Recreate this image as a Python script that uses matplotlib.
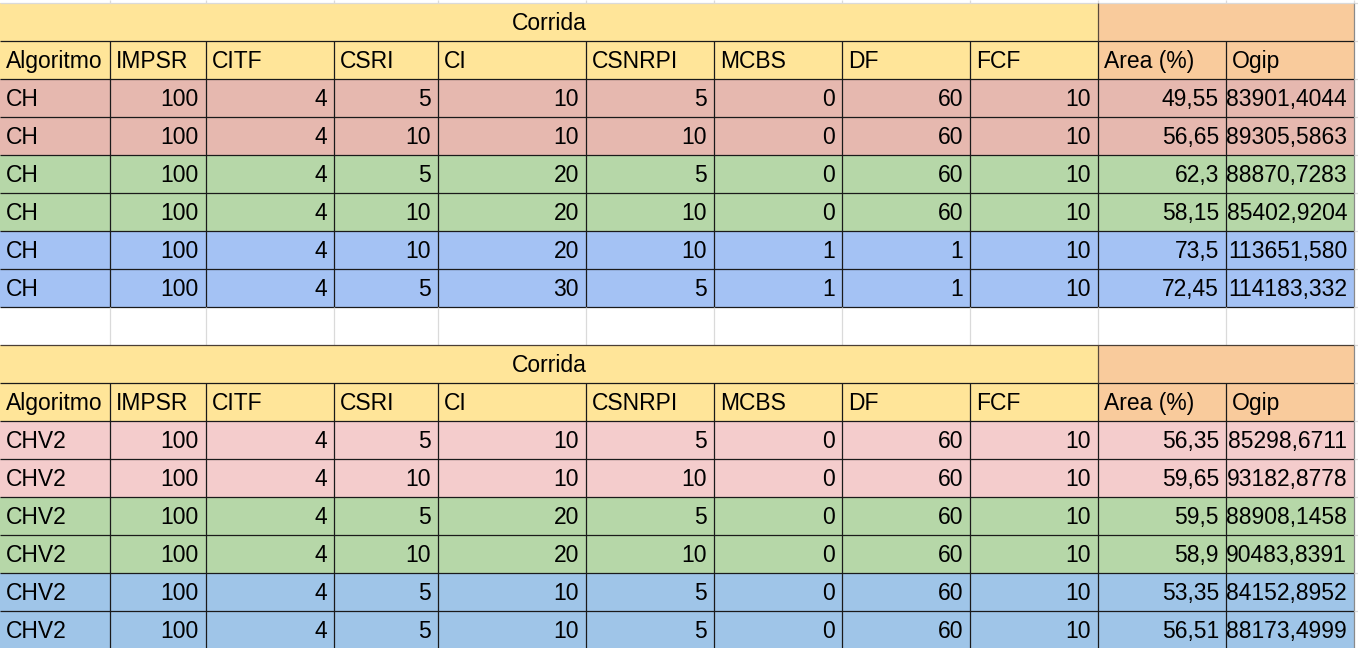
import matplotlib
matplotlib.use('Agg')
import matplotlib.pyplot as plt
from matplotlib.patches import Rectangle

# Column headers and table data
columnas = ['Algoritmo', 'IMPSR', 'CITF', 'CSRI', 'CI', 'CSNRPI', 'MCBS', 'DF', 'FCF', 'Area (%)', 'Ogip']
titulo = 'Corrida'

alg1 = ['CH'] * 6
impsr1 = [100, 100, 100, 100, 100, 100]
citf1 = [4, 4, 4, 4, 4, 4]
csri1 = [5, 10, 5, 10, 10, 5]
ci1 = [10, 10, 20, 20, 20, 30]
csnrpi1 = [5, 10, 5, 10, 10, 5]
mcbs1 = [0, 0, 0, 0, 1, 1]
df1 = [60, 60, 60, 60, 1, 1]
fcf1 = [10, 10, 10, 10, 10, 10]
area1 = [49.55, 56.65, 62.3, 58.15, 73.5, 72.45]
ogip1 = [83901.4044, 89305.5863, 88870.7283, 85402.9204, 113651.580, 114183.332]

alg2 = ['CHV2'] * 6
impsr2 = [100, 100, 100, 100, 100, 100]
citf2 = [4, 4, 4, 4, 4, 4]
csri2 = [5, 10, 5, 10, 5, 5]
ci2 = [10, 10, 20, 20, 10, 10]
csnrpi2 = [5, 10, 5, 10, 5, 5]
mcbs2 = [0, 0, 0, 0, 0, 0]
df2 = [60, 60, 60, 60, 60, 60]
fcf2 = [10, 10, 10, 10, 10, 10]
area2 = [56.35, 59.65, 59.5, 58.9, 53.35, 56.51]
ogip2 = [85298.6711, 93182.8778, 88908.1458, 90483.8391, 84152.8952, 88173.4999]

# Layout (pixels)
col_x = [0, 110, 206, 334, 438, 586, 714, 842, 970, 1098, 1226, 1354]
row_h = 38
W, H = 1358, 648

YELLOW = '#ffe599'
ORANGE = '#f9cb9c'
colores1 = ['#e6b8af', '#e6b8af', '#b6d7a8', '#b6d7a8', '#a4c2f4', '#a4c2f4']
colores2 = ['#f4cccc', '#f4cccc', '#b6d7a8', '#b6d7a8', '#9fc5e8', '#9fc5e8']
GRID = '#dadada'
BORDER = '#1a1a1a'
FONT = 'Liberation Sans'
FS = 16.5


def fmt(v):
    if isinstance(v, str):
        return v
    if isinstance(v, int):
        return str(v)
    return repr(v).replace('.', ',')


def fmt_ogip(v):
    return f'{v:.4f}'[:10].replace('.', ',')


fig = plt.figure(figsize=(W / 100, H / 100), dpi=100)
ax = fig.add_axes([0, 0, 1, 1])
ax.set_xlim(0, W)
ax.set_ylim(H, 0)
ax.axis('off')


def texto(x0, x1, y_bottom, s, align):
    yb = y_bottom - 11
    if align == 'left':
        ax.text(x0 + 6, yb, s, ha='left', va='baseline', fontsize=FS, family=FONT)
    elif align == 'right':
        ax.text(x1 - 7, yb, s, ha='right', va='baseline', fontsize=FS, family=FONT)
    else:
        ax.text((x0 + x1) / 2, yb, s, ha='center', va='baseline', fontsize=FS, family=FONT)


def hline(y, x0, x1, color=BORDER, lw=0.9):
    ax.plot([x0, x1], [y, y], color=color, lw=lw, solid_capstyle='butt')


def vline(x, y0, y1, color=BORDER, lw=0.9):
    ax.plot([x, x], [y0, y1], color=color, lw=lw, solid_capstyle='butt')


def tabla(y0, cols, area, ogip, colores, top_color):
    # title row
    ax.add_patch(Rectangle((0, y0), col_x[9], row_h, color=YELLOW, lw=0))
    ax.add_patch(Rectangle((col_x[9], y0), col_x[11] - col_x[9], row_h, color=ORANGE, lw=0))
    texto(0, col_x[9], y0 + row_h, titulo, 'center')
    # header row
    yh = y0 + row_h
    for j, name in enumerate(columnas):
        c = YELLOW if j < 9 else ORANGE
        ax.add_patch(Rectangle((col_x[j], yh), col_x[j + 1] - col_x[j], row_h, color=c, lw=0))
        texto(col_x[j], col_x[j + 1], yh + row_h, name, 'left')
    # data rows
    n = len(area)
    for i in range(n):
        yr = yh + row_h * (i + 1)
        ax.add_patch(Rectangle((0, yr), col_x[11], row_h, color=colores[i], lw=0))
        valores = [c[i] for c in cols] + [area[i]]
        for j, v in enumerate(valores):
            texto(col_x[j], col_x[j + 1], yr + row_h, fmt(v), 'left' if j == 0 else 'right')
        texto(col_x[10], col_x[11], yr + row_h, fmt_ogip(ogip[i]), 'right')
    y_end = yh + row_h * (n + 1)
    # borders
    hline(y0, 0, col_x[11], color=top_color)
    for k in range(1, n + 3):
        hline(y0 + row_h * k, 0, col_x[11])
    for x in col_x[1:11]:
        vline(x, yh, y_end)
    vline(col_x[9], y0, yh, color='#5a4a3c')
    vline(col_x[11], y0, y_end, color='#8a8a8a')
    for k in range(n + 3):
        hline(y0 + row_h * k, col_x[11], W, color=GRID)
    return y_end


# top strip of empty grid
for x in col_x[1:]:
    vline(x, 0, 3, color=GRID)

cols1 = [alg1, impsr1, citf1, csri1, ci1, csnrpi1, mcbs1, df1, fcf1]
cols2 = [alg2, impsr2, citf2, csri2, ci2, csnrpi2, mcbs2, df2, fcf2]

y_end1 = tabla(3, cols1, area1, ogip1, colores1, GRID)
# blank row between the tables
for x in col_x[1:]:
    vline(x, y_end1, y_end1 + row_h, color=GRID)
tabla(y_end1 + row_h, cols2, area2, ogip2, colores2, '#4a3f36')

fig.savefig('out.png', dpi=100)
